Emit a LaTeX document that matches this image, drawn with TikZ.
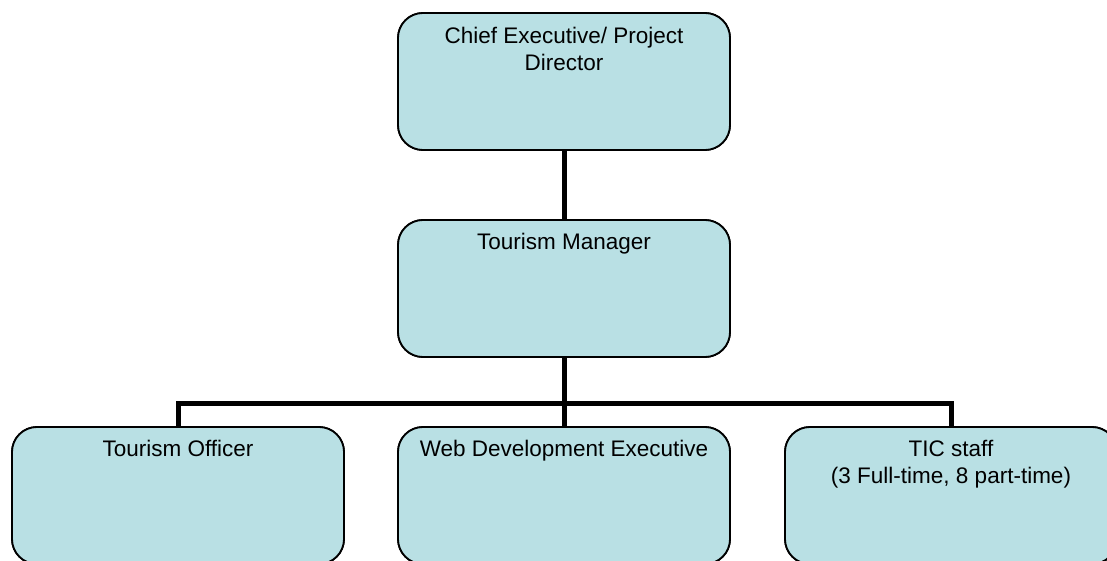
\documentclass[tikz,border=0pt]{standalone}
\usepackage{fontspec}
\setmainfont{Liberation Sans}
\usetikzlibrary{calc}
\definecolor{boxfill}{RGB}{185,224,228}
\begin{document}
\begin{tikzpicture}[x=1pt,y=-1pt,
  orgbox/.style={draw=black, line width=1.8pt, fill=boxfill, rounded corners=25pt,
    minimum width=332pt, minimum height=137pt, inner sep=0pt, outer sep=0pt, anchor=north west},
  boxtext/.style={anchor=north, inner sep=0pt, align=center,
    font=\fontsize{22.5pt}{27pt}\selectfont},
  link/.style={line width=5pt, line join=miter}]
\useasboundingbox (0,0) rectangle (1107,561);
\begin{scope}
\clip (0,0) rectangle (1107,561);
% connectors first, so the boxes cover their ends
\path (398,13) coordinate (ceoNW) (398,220) coordinate (mgrNW)
      (12,427) coordinate (offNW) (398,427) coordinate (webNW) (785,427) coordinate (ticNW);
\node[orgbox] (ceo) at (ceoNW) {};
\node[orgbox] (mgr) at (mgrNW) {};
\node[orgbox] (off) at (offNW) {};
\node[orgbox] (web) at (webNW) {};
\node[orgbox] (tic) at (ticNW) {};
\coordinate (split) at ($(mgr.south |- web.north)+(0,-24)$);
\draw[link] (ceo.south) -- (mgr.north);
\draw[link] (mgr.south) -- (split);
\draw[link] (split) -| (off.north);
\draw[link] (split) -| (tic.north);
\draw[link] (split) -- (web.north);
% boxes drawn again on top of the connector ends
\foreach \b in {ceoNW,mgrNW,offNW,webNW,ticNW}{\node[orgbox] at (\b) {};}
% box titles
\node[boxtext] (tceo) at ($(ceo.north)+(0,13.5)$) {Chief Executive/ Project\\Director};
\node[boxtext] (tmgr) at ($(mgr.north)+(0,13)$) {Tourism Manager};
\node[boxtext] (toff) at ($(off.north)+(0,13)$) {Tourism Officer};
\node[boxtext] (tweb) at ($(web.north)+(0,13)$) {Web Development Executive};
\node[boxtext] (ttic) at ($(tic.north)+(0,13)$) {TIC staff\\(3 Full-time, 8 part-time)};
\end{scope}
\end{tikzpicture}
\end{document}
